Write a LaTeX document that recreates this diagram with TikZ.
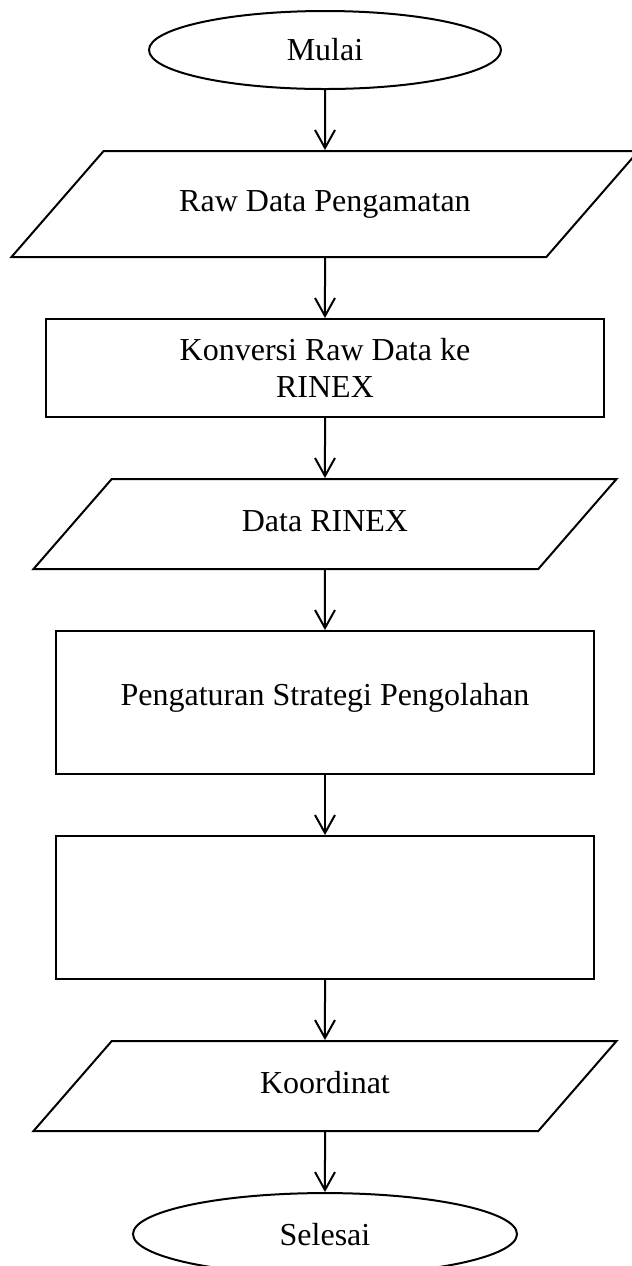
\documentclass[tikz,border=0pt]{standalone}
\usepackage{fontspec}
\setmainfont{Liberation Serif}
\usetikzlibrary{arrows.meta, positioning, shapes.geometric}
\tikzset{
  every picture/.style={line width=1pt},
  >={Straight Barb[length=9pt, width=10pt]},
  term/.style={draw, ellipse, minimum width=176pt, minimum height=39pt, inner sep=0pt},
  io/.style={draw, trapezium, trapezium left angle=49, trapezium right angle=131,
    trapezium stretches body, minimum width=291.5pt, text height=11pt, text depth=4pt,
    inner xsep=0pt, inner ysep=15pt},
  proc/.style={draw, rectangle, minimum width=269pt, minimum height=71.5pt, inner sep=0pt, align=center},
  every node/.style={font=\fontsize{16}{18.5}\selectfont}
}

\begin{document}
\begin{tikzpicture}
    \tikzset{
      ->,
      node distance=30pt,
    }
    \useasboundingbox (0,0) rectangle (316pt,-633pt);

    \node[term] (mulai) at (162.5pt,-25pt) {Mulai};
    \node[io, below=of mulai, minimum width=313.5pt, inner ysep=19pt] (raw) {Raw Data Pengamatan};

    \node[proc, below=of raw, minimum width=279pt, minimum height=49pt] (konv) {Konversi Raw Data ke\\RINEX};
    \node[io, below=of konv] (rinex) {Data RINEX};

    \node[proc, below=of rinex, text depth=4pt+4pt] (atur) {Pengaturan Strategi Pengolahan};
    \node[proc, below=of atur] (olah) {};

    \node[io, below=of olah] (koord) {Koordinat};
    \node[term, below=of koord, minimum width=192pt, minimum height=41pt] (selesai) {Selesai};

    \draw (mulai) edge (raw);
    \draw (raw) edge (konv);
    \draw (konv) edge (rinex);
    \draw (rinex) edge (atur);
    \draw (atur) edge (olah);
    \draw (olah) edge (koord);
    \draw (koord) edge (selesai);
  \end{tikzpicture}
\end{document}
